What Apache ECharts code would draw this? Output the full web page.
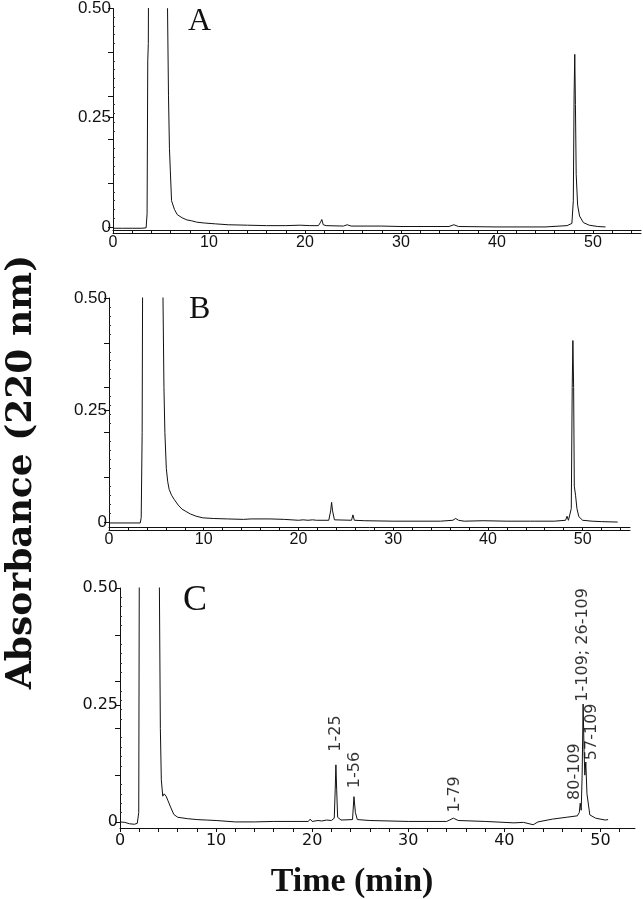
<!DOCTYPE html>
<html><head><meta charset="utf-8">
<script src="https://cdn.jsdelivr.net/npm/echarts@6/dist/echarts.min.js"></script>
<style>html,body{margin:0;padding:0;background:#fff}#c{width:643px;height:899px}</style>
</head><body><div id="c"></div>
<script>
// ---- Data (time in min, absorbance in AU) ----
const timeA = [0,1,2,3,3.45,3.55,3.62,3.68,3.75,5.6,5.68,5.78,5.88,5.97,6.1,6.4,6.7,7.2,7.7,8.2,8.7,9.5,10.7,12,14,16,18,19.5,20.5,21.4,21.6,21.75,21.9,22.2,24,24.4,24.8,28,30,35,35.5,36,40,45,47.3,47.8,47.95,48.03,48.1,48.17,48.25,48.4,48.6,49,49.6,50.5,51.3];
const absA  = [-0.003,-0.003,-0.003,-0.003,-0.002,0.03,0.38,0.42,0.9,0.9,0.5,0.3,0.18,0.13,0.06,0.04,0.028,0.021,0.016,0.014,0.011,0.009,0.007,0.005,0.004,0.003,0.003,0.004,0.003,0.003,0.01,0.017,0.005,0.003,0.002,0.005,0.002,0.002,0.001,0.001,0.005,0.001,0,0,0.003,0.008,0.06,0.3,0.395,0.28,0.12,0.05,0.025,0.01,0.004,0.001,0];

const timeB = [0,2,3.3,3.4,3.5,3.6,5.6,5.7,5.8,5.9,6.05,6.2,6.35,6.6,6.9,7.3,7.7,8.1,8.6,9.2,9.9,11,12.5,14.2,15,17,18.5,20,20.5,21,21.5,21.7,21.9,23.2,23.4,23.5,23.6,23.8,25.6,25.75,25.9,27,30,35,36.3,36.6,36.9,37.5,39.5,42,44.5,44.7,44.9,47,48.2,48.35,48.5,48.8,48.9,48.97,49.05,49.12,49.25,49.4,49.6,50,51,52,53.7];
const absB  = [-0.002,-0.002,-0.002,0.01,0.2,0.9,0.9,0.5,0.3,0.2,0.12,0.09,0.073,0.06,0.05,0.038,0.029,0.024,0.018,0.013,0.0095,0.008,0.007,0.006,0.007,0.007,0.006,0.004,0.005,0.004,0.005,0.009,0.004,0.004,0.025,0.044,0.025,0.005,0.004,0.016,0.004,0.003,0.002,0.002,0.004,0.008,0.004,0.002,0.003,0.002,0.002,0.005,0.002,0.002,0.004,0.013,0.004,0.03,0.3,0.405,0.3,0.08,0.06,0.03,0.012,0.004,0.002,0.001,0];

const timeC = [0,0.5,1,1.5,1.8,1.95,2.05,4.0,4.1,4.2,4.3,4.45,4.6,4.8,5.0,5.3,5.6,6.0,7,8,9,10,12,14,16,18,19.6,19.8,20.0,20.6,21.0,21.5,22.0,22.3,22.4,22.47,22.55,22.65,23,24.2,24.35,24.5,24.7,26,30,34,34.7,35.2,38,41,42,43,43.5,45,46.5,47.6,47.8,47.9,48.0,48.1,48.2,48.3,48.38,48.48,48.6,48.9,49.5,50.5,50.8];
const absC  = [0,-0.001,-0.004,-0.005,-0.003,0.02,0.9,0.9,0.5,0.2,0.09,0.055,0.06,0.055,0.045,0.03,0.016,0.01,0.007,0.005,0.004,0.003,0,0,0.001,0.001,0.001,0.006,0.001,0.003,0.002,0.004,0.003,0.008,0.07,0.122,0.07,0.01,0.004,0.005,0.054,0.02,0.005,0.003,0.001,0.001,0.008,0.003,0.001,-0.002,-0.001,-0.006,0,0.006,0.01,0.013,0.02,0.04,0.025,0.1,0.252,0.15,0.1,0.128,0.06,0.015,0.008,0.004,0.005];

// peak annotations in panel C
const peakNamesC = ['1-25','1-56','1-79','80-109','1-109; 26-109','57-109'];
const peakTimeC  = [22.5, 24.4, 34.8, 47.35, 48.2, 49.1];
const peakAbsC   = [0.15, 0.072, 0.02, 0.047, 0.257, 0.132];

// tick labels
const yTickLabels = [0, 0.25, 0.5];
const yMajorTicks = [0, 0.1, 0.2, 0.25, 0.3, 0.4, 0.5];
const yMinorTicks = [0.02,0.04,0.06,0.08,0.12,0.14,0.16,0.18,0.22,0.24,0.26,0.28,0.32,0.34,0.36,0.38,0.42,0.44,0.46,0.48];
const xTickLabels = [0, 10, 20, 30, 40, 50];
const xTicks = [0,2,4,6,8,10,12,14,16,18,20,22,24,26,28,30,32,34,36,38,40,42,44,46,48,50,52,54];

const panels = [
  {letter:'A', time:timeA, abs:absA, left:113, top:8,   width:528, height:222, xMax:55,   yMin:-0.007, font:'Liberation Sans', yfs:17, xfs:16, dbl:true},
  {letter:'B', time:timeB, abs:absB, left:109, top:298, width:521, height:229, xMax:55,   yMin:-0.011, font:'Liberation Sans', yfs:17, xfs:16, dbl:true},
  {letter:'C', time:timeC, abs:absC, left:120, top:588, width:515, height:240, xMax:53.6, yMin:-0.013, font:'DejaVu Sans', yfs:16, xfs:16, dbl:false}
];

const grid = [], xAxis = [], yAxis = [], series = [];
panels.forEach((p, i) => {
  grid.push({left:p.left, top:p.top, width:p.width, height:p.height, containLabel:false});
  const xi = xAxis.length;
  xAxis.push({
    type:'value', gridIndex:i, min:0, max:p.xMax, position:'bottom',
    axisLine:{show:true, onZero:false, lineStyle:{color:'#111', width:1}},
    axisTick:{show:true, customValues:xTicks.filter(v => v <= p.xMax), length:4, lineStyle:{color:'#111'}},
    axisLabel:{show:true, customValues:xTickLabels, color:'#111', fontFamily:p.font, fontSize:p.xfs, margin:5},
    splitLine:{show:false}
  });
  if (p.dbl) {
    xAxis.push({
      type:'value', gridIndex:i, min:0, max:p.xMax, position:'bottom', offset:3,
      axisLine:{show:true, onZero:false, lineStyle:{color:'#111', width:1}},
      axisTick:{show:false}, axisLabel:{show:false}, splitLine:{show:false}
    });
  }
  const yi = yAxis.length;
  yAxis.push({
    type:'value', gridIndex:i, min:p.yMin, max:0.5,
    axisLine:{show:true, onZero:false, lineStyle:{color:'#111', width:1}},
    axisTick:{show:true, customValues:yMajorTicks, length:5, lineStyle:{color:'#111'}},
    axisLabel:{show:true, customValues:yTickLabels, color:'#111', fontFamily:p.font, fontSize:p.yfs, margin:2,
      formatter: v => (v === 0 ? '0' : v.toFixed(2))},
    splitLine:{show:false}
  });
  yAxis.push({
    type:'value', gridIndex:i, min:p.yMin, max:0.5,
    axisLine:{show:false},
    axisTick:{show:true, customValues:yMinorTicks, length:2, lineStyle:{color:'#333'}},
    axisLabel:{show:false}, splitLine:{show:false}
  });
  series.push({
    type:'line', xAxisIndex:xi, yAxisIndex:yi, showSymbol:false, symbol:'none', clip:true,
    lineStyle:{color:'#111', width:1}, data:p.time.map((t, k) => [t, p.abs[k]]), silent:true
  });
});

// peak labels in panel C
series.push({
  type:'scatter', xAxisIndex:xAxis.length - 1, yAxisIndex:4, symbolSize:0.1,
  itemStyle:{color:'#111'},
  data: peakNamesC.map((n, k) => ({value:[peakTimeC[k], peakAbsC[k]], name:n})),
  label:{show:true, position:'inside', rotate:90, align:'left', verticalAlign:'middle',
    formatter: d => d.name, fontFamily:'DejaVu Sans', fontSize:16, color:'#000',
    textBorderWidth:0, textBorderColor:'transparent'},
  silent:true
});

const chart = echarts.init(document.getElementById('c'), null, {renderer:'canvas'});
chart.setOption({
  animation:false,
  backgroundColor:'#fff',
  grid, xAxis, yAxis, series,
  graphic:[
    {type:'text', left:188, top:6, style:{text:'A', font:'32px "Liberation Serif"', fill:'#111'}},
    {type:'text', left:189, top:294, style:{text:'B', font:'32px "Liberation Serif"', fill:'#111'}},
    {type:'text', left:183, top:583, style:{text:'C', font:'36px "Liberation Serif"', fill:'#111'}},
    {type:'text', x:22, y:472, rotation:Math.PI/2,
      style:{text:'Absorbance (220 nm)', font:'bold 36px "DejaVu Serif"', fill:'#111', textAlign:'center', textVerticalAlign:'middle'}},
    {type:'text', x:352, y:882,
      style:{text:'Time (min)', font:'bold 34px "Liberation Serif"', fill:'#111', textAlign:'center', textVerticalAlign:'middle'}}
  ]
});
</script></body></html>
